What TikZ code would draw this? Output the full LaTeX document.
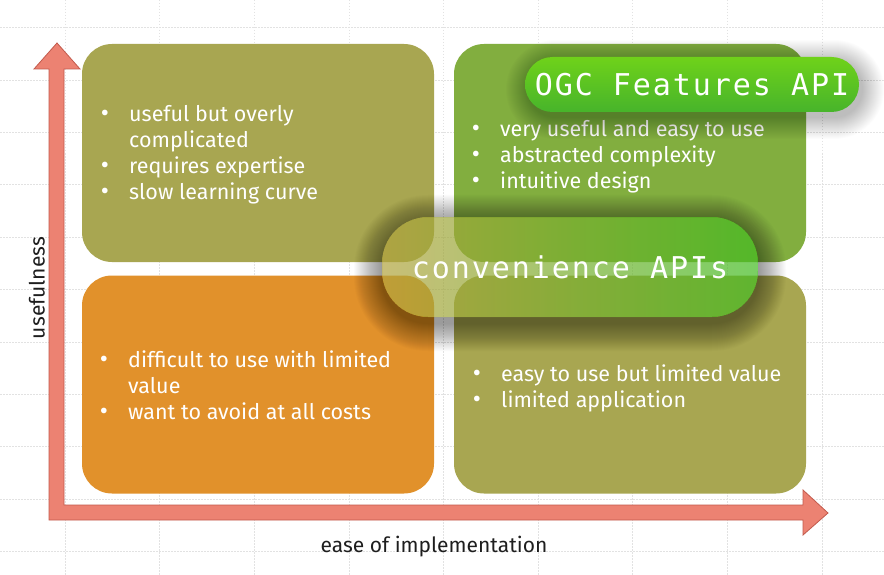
\documentclass[tikz,border=0pt]{standalone}
\usepackage{fontspec}
\setmainfont{Fira Sans}
\newfontfamily\pillfont[LetterSpace=6.5]{DejaVu Sans Mono}
\usetikzlibrary{calc}

\definecolor{gridgray}{HTML}{E2E2E2}
\definecolor{axisfill}{HTML}{EC8272}
\definecolor{axisedge}{HTML}{C25A4C}
\definecolor{olive}{HTML}{A8A651}
\definecolor{orangebox}{HTML}{E1912B}
\definecolor{greenbox}{HTML}{82AE3F}
\definecolor{ogctop}{HTML}{6FD21A}
\definecolor{ogcbottom}{HTML}{47B42B}
\definecolor{convleft}{HTML}{B2A33E}
\definecolor{convright}{HTML}{41BC21}
\definecolor{labelink}{HTML}{1E1E1E}

\tikzset{
  gridline/.style={gridgray, line width=0.6pt, dash pattern=on 1.5pt off 1.5pt},
  quad/.style={rectangle, rounded corners=30pt, minimum width=352pt, minimum height=218pt, inner sep=0pt, draw=none},
  item/.style={anchor=base west, inner sep=0pt, text=white, font=\fontsize{21.5}{25}\selectfont},
  bul/.style={anchor=base, inner sep=0pt, text=white, font=\fontsize{25}{25}\selectfont},
  axislabel/.style={inner sep=0pt, text=labelink, font=\fontsize{21}{25}\selectfont},
  pilltext/.style={text=white, font=\fontsize{30}{34}\pillfont},
  softshade/.style={fill=black, opacity=#1},
}

\begin{document}
\begin{tikzpicture}[x=1pt, y=-1pt]
\useasboundingbox (0,0) rectangle (884,575);
\fill[white] (0,0) rectangle (884,575);

% background grid
\foreach \i in {0,...,8} \draw[gridline] (65+94.6*\i,0) -- (65+94.6*\i,575);
\foreach \j in {0,...,10} \draw[gridline] (0,27.5+52.4*\j) -- (884,27.5+52.4*\j);

% axes: one L-shaped double arrow
\filldraw[fill=axisfill, draw=axisedge, line width=0.8pt, line join=miter]
  (49,520) -- (49,69) -- (34,69) -- (57,43) -- (80,69) -- (64,69) -- (64,505)
  -- (803,505) -- (803,490) -- (828,513) -- (803,535) -- (803,520) -- cycle;

\node[axislabel, rotate=90] (yl) at (37,288) {usefulness};
\node[axislabel, anchor=base] (xl) at (434,552) {ease of implementation};

% quadrants
\node[quad, fill=olive]     (tl) at (258,153) {};
\node[quad, fill=greenbox]  (tr) at (630,153) {};
\node[quad, fill=orangebox] (bl) at (258,384.5) {};
\node[quad, fill=olive]     (br) at (630,384.5) {};

% top-left text
\node[bul]  (tlb1) at (105,122) {•};
\node[item] (tlt1) at (129,122) {useful but overly};
\node[item] (tlt2) at (129,148) {complicated};
\node[bul]  (tlb3) at (105,174) {•};
\node[item] (tlt3) at (129,174) {requires expertise};
\node[bul]  (tlb4) at (105,200) {•};
\node[item] (tlt4) at (129,200) {slow learning curve};

% top-right text
\node[bul]  (trb1) at (476,137) {•};
\node[item] (trt1) at (500,137) {very useful and easy to use};
\node[bul]  (trb2) at (476,163) {•};
\node[item] (trt2) at (500,163) {abstracted complexity};
\node[bul]  (trb3) at (476,189) {•};
\node[item] (trt3) at (500,189) {intuitive design};

% bottom-left text
\node[bul]  (blb1) at (104,367) {•};
\node[item] (blt1) at (128,367) {difficult to use with limited};
\node[item] (blt2) at (128,393) {value};
\node[bul]  (blb3) at (104,419) {•};
\node[item] (blt3) at (128,419) {want to avoid at all costs};

% bottom-right text
\node[bul]  (brb1) at (477,381) {•};
\node[item] (brt1) at (501,381) {easy to use but limited value};
\node[bul]  (brb2) at (477,407) {•};
\node[item] (brt2) at (501,407) {limited application};

% translucent centre pill: soft shadow built from stacked faint layers,
% kept outside the pill outline so the pill stays clear
\coordinate (convNW) at (382,217);
\coordinate (convSE) at (758,317);
\begin{scope}[even odd rule, rounded corners=46pt]
  \clip (-10,-10) rectangle (900,600) (convNW) rectangle (convSE);
  \foreach \k in {1,...,28}
    \fill[softshade=0.016, rounded corners=46+\k]
      ($(convNW)+(-\k,-\k+6)$) rectangle ($(convSE)+(\k,\k+6)$);
\end{scope}
\node[rectangle, rounded corners=46pt, minimum width=376pt, minimum height=100pt,
      inner sep=0pt, left color=convleft, right color=convright, fill opacity=0.7,
      text opacity=1, pilltext] (conv) at (570,267) {convenience APIs};

% highlighted pill with its soft shadow
\coordinate (ogcNW) at (525,57);
\coordinate (ogcSE) at (859,112);
\foreach \k in {1,...,22}
  \fill[softshade=0.012, rounded corners=27.5+\k]
    ($(ogcNW)+(-\k+3,-\k+5)$) rectangle ($(ogcSE)+(\k+3,\k+5)$);
\node[rectangle, rounded corners=27.5pt, minimum width=334pt, minimum height=55pt,
      inner sep=0pt, top color=ogctop, bottom color=ogcbottom, pilltext]
  (ogc) at (692,84.5) {OGC Features API};
\end{tikzpicture}
\end{document}
